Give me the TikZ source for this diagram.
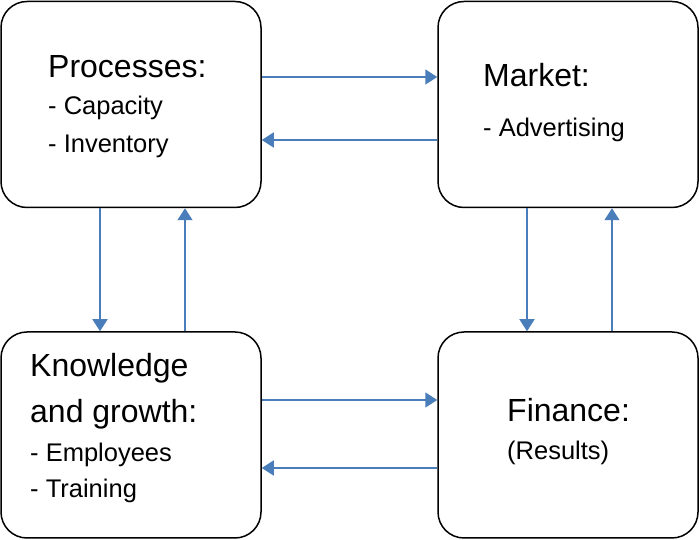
\documentclass[tikz,border=0pt]{standalone}
\usepackage{fontspec}
\setmainfont{Liberation Sans}
\usetikzlibrary{arrows.meta}
\definecolor{arrblue}{RGB}{74,126,187}
\tikzset{
  x=1pt,y=1pt,
  box/.style={draw=black,line width=1.5pt,rounded corners=26pt,minimum width=260pt,minimum height=206pt,inner sep=0pt},
  arr/.style={draw=arrblue,line width=1.6pt,-{Triangle[length=12pt,width=15pt]}},
  head/.style={anchor=base west,inner sep=0pt,font=\fontsize{32}{38}\selectfont},
  sub/.style={anchor=base west,inner sep=0pt,font=\fontsize{25.5}{30}\selectfont}
}
\begin{document}
\begin{tikzpicture}
\useasboundingbox (0,0) rectangle (699,540);
\node[box] (TL) at (131,435.5) {};
\node[box] (TR) at (568,435.5) {};
\node[box] (BL) at (131,105) {};
\node[box] (BR) at (568,105) {};

\node[head] (t1) at (48,462) {Processes:};
\node[sub] (t2) at (48,425) {- Capacity};
\node[sub] (t3) at (48,387) {- Inventory};

\node[head] (m1) at (483,453) {Market:};
\node[sub] (m2) at (483,403) {- Advertising};

\node[head] (k1) at (30,163) {Knowledge};
\node[head] (k2) at (30,117) {and growth:};
\node[sub] (k3) at (30,78) {- Employees};
\node[sub] (k4) at (30,42) {- Training};

\node[head] (f1) at (507,118) {Finance:};
\node[sub] (f2) at (507,80) {(Results)};

\coordinate (h1) at (0,463);
\coordinate (h2) at (0,400);
\coordinate (h3) at (0,140);
\coordinate (h4) at (0,72);
\coordinate (v1) at (100,0);
\coordinate (v2) at (185,0);
\coordinate (v3) at (527,0);
\coordinate (v4) at (612,0);

\draw[arr] (TL.east |- h1) -- (TR.west |- h1);
\draw[arr] (TR.west |- h2) -- (TL.east |- h2);
\draw[arr] (BL.east |- h3) -- (BR.west |- h3);
\draw[arr] (BR.west |- h4) -- (BL.east |- h4);
\draw[arr] (TL.south -| v1) -- (BL.north -| v1);
\draw[arr] (BL.north -| v2) -- (TL.south -| v2);
\draw[arr] (TR.south -| v3) -- (BR.north -| v3);
\draw[arr] (BR.north -| v4) -- (TR.south -| v4);
\end{tikzpicture}
\end{document}
